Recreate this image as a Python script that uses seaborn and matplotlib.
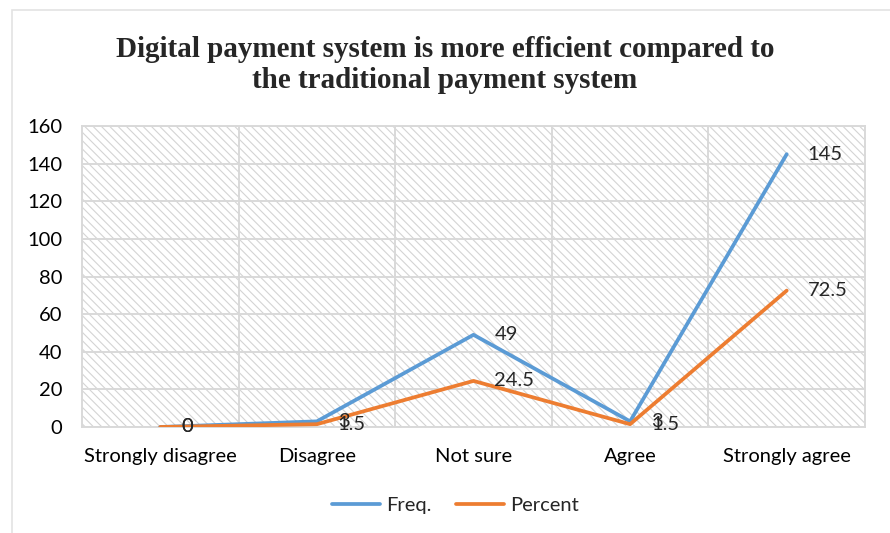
import matplotlib
matplotlib.use("Agg")
import matplotlib.pyplot as plt
import seaborn as sns
import pandas as pd
from matplotlib.patches import Rectangle
from matplotlib.lines import Line2D

# Data
categories = ['Strongly disagree', 'Disagree', 'Not sure', 'Agree', 'Strongly agree']
freq = [0, 3, 49, 3, 145]
percent = [0, 1.5, 24.5, 1.5, 72.5]
percent_labels = ['0', '1.5', '24.5', '1.5', '72.5']
freq_labels = ['0', '3', '49', '3', '145']

df = pd.DataFrame({'Response': categories * 2,
                   'Value': freq + percent,
                   'Series': ['Freq.'] * 5 + ['Percent'] * 5})

sns.set_style('white')
plt.rcParams['font.family'] = ['Lato', 'DejaVu Sans']
plt.rcParams['hatch.linewidth'] = 0.8
plt.rcParams['hatch.color'] = '#d4d4d4'

blue = '#5b9bd5'
orange = '#ed7d31'
grid = '#d9d9d9'
fs = 14.5
lw = 2.7

fig = plt.figure(figsize=(8.9, 5.33), dpi=100)
ax = fig.add_axes([82 / 890, 106 / 533, 783 / 890, 301 / 533])

# outer chart border
fig.patches.append(Rectangle((12 / 890, -0.1), 1.2, 1 - 10 / 533 + 0.1,
                             transform=fig.transFigure, fill=False,
                             edgecolor='#e3e3e3', lw=1.2))

# hatched plot area
ax.add_patch(Rectangle((0, 0), 1, 1, transform=ax.transAxes, facecolor='white',
                       edgecolor='#d4d4d4', hatch='\\\\\\\\', lw=0, zorder=0))

sns.lineplot(data=df, x='Response', y='Value', hue='Series', sort=False,
             palette=[blue, orange], linewidth=lw, ax=ax, legend=False, zorder=3)

ax.set_xlim(-0.5, 4.5)
ax.set_ylim(0, 160)
ax.set_yticks(range(0, 161, 20))
ax.set_xticks(range(5))
ax.set_xticklabels(categories)
for y in range(20, 161, 20):
    ax.axhline(y, color=grid, lw=1.4, zorder=1)
for x in [0.5, 1.5, 2.5, 3.5, 4.5]:
    ax.axvline(x, color=grid, lw=1.4, zorder=1)
ax.axhline(0, color=grid, lw=1.4, zorder=1)
for s in ax.spines.values():
    s.set_color(grid)
    s.set_linewidth(1.4)
ax.tick_params(axis='both', length=0, labelsize=fs, colors='#000000')
ax.tick_params(axis='x', pad=15)
ax.tick_params(axis='y', pad=14)
ax.set_xlabel('')
ax.set_ylabel('')

for i in range(5):
    ax.annotate(freq_labels[i], (i, freq[i]), xytext=(15, 0), textcoords='offset points',
                va='center', ha='left', fontsize=fs, zorder=4)
    ax.annotate(percent_labels[i], (i, percent[i]), xytext=(15, 0), textcoords='offset points',
                va='center', ha='left', fontsize=fs, zorder=4)

fig.text(0.5, 0.878, 'Digital payment system is more efficient compared to\nthe traditional payment system',
         ha='center', va='center', fontsize=21, fontweight='bold',
         family=['Liberation Serif'], linespacing=1.2)

handles = [Line2D([], [], color=blue, lw=lw), Line2D([], [], color=orange, lw=lw)]
fig.legend(handles, ['Freq.', 'Percent'], loc='center', bbox_to_anchor=(0.512, 0.052),
           ncol=2, frameon=False, fontsize=fs, handlelength=2.4, columnspacing=1.2,
           handletextpad=0.3)

fig.savefig('out.png', dpi=100)
